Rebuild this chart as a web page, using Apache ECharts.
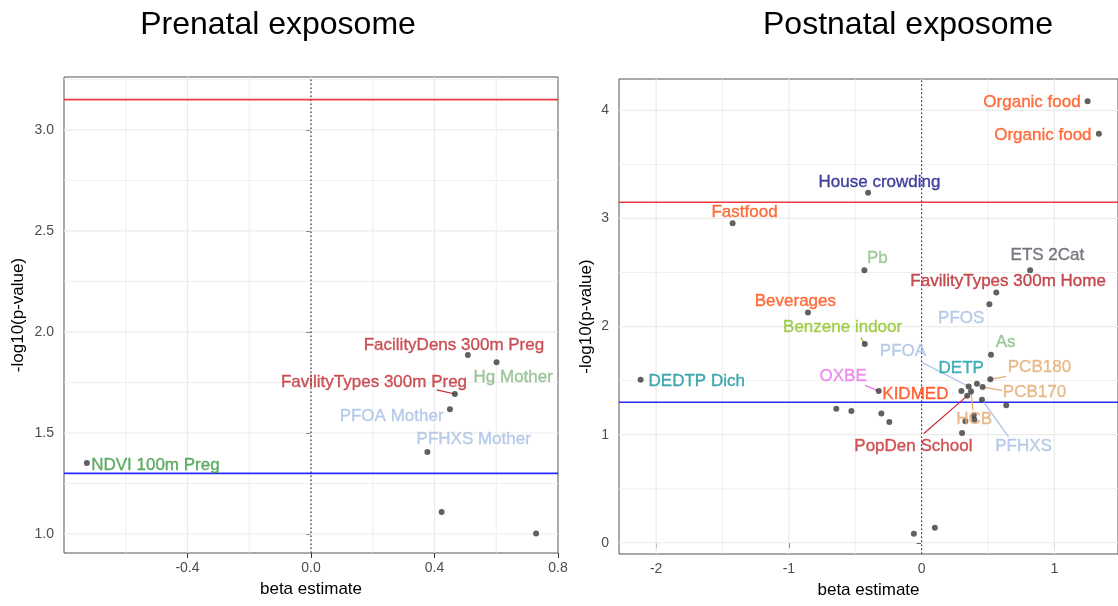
<!DOCTYPE html>
<html>
<head>
<meta charset="utf-8">
<script src="https://cdn.jsdelivr.net/npm/echarts@6/dist/echarts.min.js"></script>
<style>
html,body{margin:0;padding:0;background:#fff;}
#chart{width:1118px;height:606px;}
</style>
</head>
<body>
<div id="chart"></div>
<script>
// ---------------- DATA ----------------
const prenatalNames = ['NDVI 100m Preg','FacilityDens 300m Preg','Hg Mother','FavilityTypes 300m Preg','PFOA Mother','PFHXS Mother','',''];
const prenatalBeta  = [-0.726, 0.508, 0.601, 0.466, 0.450, 0.377, 0.423, 0.729];
const prenatalLogP  = [ 1.351, 1.886, 1.850, 1.693, 1.617, 1.406, 1.109, 1.003];

const postnatalNames = ['Organic food','Organic food','House crowding','Fastfood','Pb','ETS 2Cat',
  'FavilityTypes 300m Home','PFOS','Beverages','Benzene indoor','As','DEDTP Dich','PCB180','DETP',
  'PFOA','PCB170','KIDMED','OXBE','PopDen School','HCB','PFHXS',
  '','','','','','','','','','',''];
const postnatalBeta = [1.251,1.336,-0.403,-1.424,-0.431,0.818,0.563,0.511,-0.856,-0.428,0.523,-2.117,0.518,0.417,
  0.355,0.460,0.300,-0.323,0.344,0.373,0.455,
  0.638,0.393,0.398,0.330,0.305,-0.643,-0.529,-0.303,-0.243,-0.058,0.100];
const postnatalLogP = [4.085,3.783,3.238,2.955,2.521,2.521,2.315,2.207,2.130,1.838,1.740,1.509,1.512,1.472,
  1.445,1.440,1.403,1.403,1.359,1.400,1.324,
  1.271,1.179,1.139,1.124,1.016,1.239,1.219,1.195,1.117,0.083,0.139];

// thresholds
const thresholdBonferroni = 3.15;
const thresholdNominal = 1.30;

// axis ranges
const preXRange = [-0.8, 0.8];
const preYRange = [0.906, 3.262];
const postXRange = [-2.28, 1.48];
const postYRange = [-0.104, 4.29];

// tick labels
const preXTicks = [-0.4, 0.0, 0.4, 0.8];
const preYTicks = [1.0, 1.5, 2.0, 2.5, 3.0];
const postXTicks = [-2, -1, 0, 1];
const postYTicks = [0, 1, 2, 3, 4];
// gridlines
const preXGrid = [-0.4, 0.0, 0.4];
const preXMinor = [-0.6, -0.2, 0.2, 0.6];
const preYGrid = [1.0, 1.5, 2.0, 2.5, 3.0];
const preYMinor = [1.25, 1.75, 2.25, 2.75, 3.25];
const postXGrid = [-2, -1, 0, 1];
const postXMinor = [-1.5, -0.5, 0.5];
const postYGrid = [0, 1, 2, 3, 4];
const postYMinor = [0.5, 1.5, 2.5, 3.5];

// ---------------- LABEL LAYOUT (repelled text positions, in data units) ----------------
const preLabelLayout = {
  0: {pos: [-0.504, 1.342], color: '#3a9a42'},
  1: {pos: [0.463, 1.936], color: '#c02a32'},
  2: {pos: [0.655, 1.776], color: '#86b886'},
  3: {pos: [0.204, 1.749], color: '#c02a32', lead: [0.407, 1.713]},
  4: {pos: [0.261, 1.584], color: '#a6c0e4'},
  5: {pos: [0.527, 1.469], color: '#a6c0e4'}
};
const postLabelLayout = {
  0: {pos: [0.832, 4.078], color: '#ff4e12'},
  1: {pos: [0.914, 3.772], color: '#ff4e12'},
  2: {pos: [-0.317, 3.338], color: '#141488'},
  3: {pos: [-1.334, 3.054], color: '#ff4e12'},
  4: {pos: [-0.333, 2.629], color: '#8cc088'},
  5: {pos: [0.948, 2.655], color: '#5a5a66'},
  6: {pos: [0.652, 2.416], color: '#b82028'},
  7: {pos: [0.299, 2.075], color: '#a6c0e4'},
  8: {pos: [-0.951, 2.232], color: '#ff4e12'},
  9: {pos: [-0.595, 1.992], color: '#8fc426', lead: [-0.458, 1.897]},
  10: {pos: [0.633, 1.853], color: '#84bc80'},
  11: {pos: [-1.694, 1.493], color: '#15939c'},
  12: {pos: [0.888, 1.622], color: '#e4ab72', lead: [0.638, 1.539]},
  13: {pos: [0.299, 1.614], color: '#169cac'},
  14: {pos: [-0.140, 1.770], color: '#a6c0e4', lead: [0.005, 1.668]},
  15: {pos: [0.851, 1.391], color: '#e4ab72', lead: [0.605, 1.410]},
  16: {pos: [-0.047, 1.373], color: '#ff420a'},
  17: {pos: [-0.591, 1.539], color: '#ea74ea', lead: [-0.426, 1.456]},
  18: {pos: [-0.062, 0.893], color: '#c62a2e', lead: [0.017, 1.011]},
  19: {pos: [0.396, 1.142], color: '#e4ab72', lead: [0.387, 1.225]},
  20: {pos: [0.768, 0.893], color: '#a6c0e4', lead: [0.655, 0.979]}
};

// ---------------- BUILD ----------------
const FONT = "'Liberation Sans', Arial, sans-serif";

function pointsData(beta, logp) {
  return beta.map((b, i) => [b, logp[i]]);
}
function labelData(names, layout) {
  const out = [];
  Object.keys(layout).forEach(k => {
    const L = layout[k];
    out.push({
      value: L.pos,
      name: names[k],
      label: {color: L.color, textBorderColor: L.color, textBorderWidth: 0.35}
    });
  });
  return out;
}
function segment(idx, z, style, a, b) {
  return {
    type: 'line', xAxisIndex: idx, yAxisIndex: idx, z: z, silent: true, animation: false,
    symbol: 'none', showSymbol: false, clip: true,
    lineStyle: style, itemStyle: {color: style.color},
    data: [a, b]
  };
}
function leaderSeries(idx, beta, logp, layout) {
  const out = [];
  Object.keys(layout).forEach(k => {
    const L = layout[k];
    if (L.lead) {
      out.push(segment(idx, 3, {color: L.color, width: 1.2, type: 'solid'},
        [beta[k], logp[k]], L.lead));
    }
  });
  return out;
}
function gridSeries(idx, xs, ys, xr, yr, width) {
  const out = [];
  xs.forEach(v => out.push(segment(idx, 1, {color: '#ebebeb', width: width, type: 'solid'}, [v, yr[0]], [v, yr[1]])));
  ys.forEach(v => out.push(segment(idx, 1, {color: '#ebebeb', width: width, type: 'solid'}, [xr[0], v], [xr[1], v])));
  return out;
}

function makeXAxis(gridIndex, range, ticks, fmt) {
  return {
    type: 'value', gridIndex: gridIndex, min: range[0], max: range[1],
    name: 'beta estimate', nameLocation: 'middle', nameGap: 28,
    nameTextStyle: {fontFamily: FONT, fontSize: 17, color: '#000'},
    axisLine: {show: false},
    axisTick: {show: true, length: 5, customValues: ticks, lineStyle: {color: '#333'}},
    axisLabel: {show: true, customValues: ticks, formatter: fmt, margin: 8,
      fontFamily: FONT, fontSize: 14, color: '#4d4d4d'},
    splitLine: {show: false}
  };
}
function makeYAxis(gridIndex, range, ticks, fmt, gap) {
  return {
    type: 'value', gridIndex: gridIndex, min: range[0], max: range[1],
    name: '-log10(p-value)', nameLocation: 'middle', nameGap: gap, nameRotate: 90,
    nameTextStyle: {fontFamily: FONT, fontSize: 17, color: '#000'},
    axisLine: {show: false},
    axisTick: {show: true, length: 5, customValues: ticks, lineStyle: {color: '#333'}},
    axisLabel: {show: true, customValues: ticks, formatter: fmt, margin: 10,
      fontFamily: FONT, fontSize: 14, color: '#4d4d4d'},
    splitLine: {show: false}
  };
}

const fmt1 = v => (Math.abs(v) < 1e-9 ? 0 : v).toFixed(1);
const fmt0 = v => String(Math.round(v));

function panelSeries(idx, names, beta, logp, layout, xr, yr, xg, xm, yg, ym) {
  return []
    .concat(gridSeries(idx, xm, ym, xr, yr, 0.8))
    .concat(gridSeries(idx, xg, yg, xr, yr, 1.2))
    .concat([
      segment(idx, 2, {color: '#333333', width: 1.2, type: [1.5, 2.5]}, [0, yr[0]], [0, yr[1]]),
      segment(idx, 2, {color: '#ec3a3f', width: 1.6, type: 'solid'}, [xr[0], thresholdBonferroni], [xr[1], thresholdBonferroni]),
      segment(idx, 2, {color: '#2a2aff', width: 1.6, type: 'solid'}, [xr[0], thresholdNominal], [xr[1], thresholdNominal]),
      { // points
        type: 'scatter', xAxisIndex: idx, yAxisIndex: idx, z: 4, animation: false,
        symbol: 'circle', symbolSize: 6,
        itemStyle: {color: '#3a3a3a', borderWidth: 0},
        data: pointsData(beta, logp)
      },
      { // text labels
        type: 'scatter', xAxisIndex: idx, yAxisIndex: idx, z: 5, animation: false, silent: true,
        symbol: 'circle', symbolSize: 1,
        itemStyle: {color: 'rgba(0,0,0,0)'},
        label: {show: true, position: 'inside', formatter: p => p.name,
          fontFamily: FONT, fontSize: 17},
        labelLayout: {hideOverlap: false},
        data: labelData(names, layout)
      }
    ])
    .concat(leaderSeries(idx, beta, logp, layout));
}

const option = {
  backgroundColor: '#fff',
  animation: false,
  title: [
    {text: 'Prenatal exposome', left: 273, top: 4, textAlign: 'center',
      textStyle: {fontFamily: FONT, fontSize: 32, fontWeight: 'normal', color: '#000'}},
    {text: 'Postnatal exposome', left: 903, top: 4, textAlign: 'center',
      textStyle: {fontFamily: FONT, fontSize: 32, fontWeight: 'normal', color: '#000'}}
  ],
  grid: [
    {left: 64, top: 77, width: 494, height: 476, show: true, backgroundColor: '#fff',
      borderColor: '#555', borderWidth: 1, containLabel: false},
    {left: 619, top: 79, width: 501, height: 475, show: true, backgroundColor: '#fff',
      borderColor: '#555', borderWidth: 1, containLabel: false}
  ],
  xAxis: [
    makeXAxis(0, preXRange, preXTicks, fmt1),
    makeXAxis(1, postXRange, postXTicks, fmt0)
  ],
  yAxis: [
    makeYAxis(0, preYRange, preYTicks, fmt1, 37),
    makeYAxis(1, postYRange, postYTicks, fmt0, 24)
  ],
  series: []
    .concat(panelSeries(0, prenatalNames, prenatalBeta, prenatalLogP, preLabelLayout,
      preXRange, preYRange, preXGrid, preXMinor, preYGrid, preYMinor))
    .concat(panelSeries(1, postnatalNames, postnatalBeta, postnatalLogP, postLabelLayout,
      postXRange, postYRange, postXGrid, postXMinor, postYGrid, postYMinor))
};

const chart = echarts.init(document.getElementById('chart'), null, {renderer: 'canvas'});
chart.setOption(option);
</script>
</body>
</html>
